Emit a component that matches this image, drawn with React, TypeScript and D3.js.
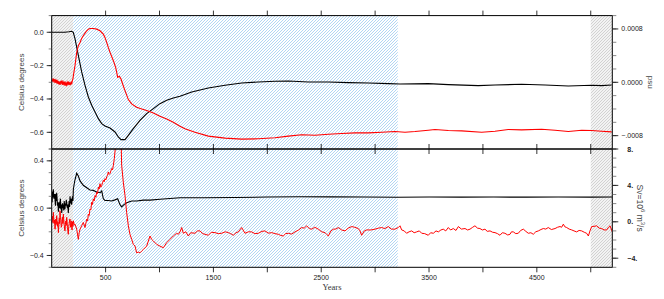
import React from "react";
import * as d3 from "d3";

// ---------- data ----------
// top panel, black: temperature (Celsius, left axis) [year, value]
const topBlack: [number, number][] = [
  [0, 0.0], [60, 0.0], [120, 0.0], [160, 0.003], [185, 0.006], [200, 0.0], [216, -0.038], [247, -0.138],
  [278, -0.238], [309, -0.318], [340, -0.388], [371, -0.438], [402, -0.478], [433, -0.518],
  [464, -0.548], [494, -0.562], [541, -0.574], [587, -0.598], [618, -0.628], [643, -0.644],
  [680, -0.644], [711, -0.618], [757, -0.578], [819, -0.528], [881, -0.488], [943, -0.458],
  [1004, -0.428], [1067, -0.408], [1128, -0.394], [1190, -0.384], [1299, -0.358], [1453, -0.334],
  [1608, -0.318], [1762, -0.304], [1917, -0.298], [2071, -0.294], [2195, -0.292], [2380, -0.298],
  [2566, -0.298], [2751, -0.302], [2937, -0.304], [3122, -0.308], [3231, -0.31], [3493, -0.308],
  [3679, -0.314], [3957, -0.32], [4112, -0.316], [4359, -0.312], [4576, -0.316], [4792, -0.322],
  [5009, -0.318], [5101, -0.32], [5194, -0.316],
];

// top panel, red: salinity (psu, right axis), in units of 1e-4 psu
const topRed: [number, number][] = [
  [0, 0.4], [6, 0.1], [12, 0.6], [18, 0.2], [24, 0.5], [30, -0.1], [36, 0.3], [42, 0.0], [48, 0.4],
  [54, -0.2], [60, 0.2], [66, -0.3], [72, 0.1], [78, -0.4], [84, 0.2], [90, -0.1], [96, 0.3],
  [102, -0.4], [108, 0.0], [114, -0.3], [120, 0.1], [126, -0.5], [132, -0.1], [138, -0.4],
  [144, 0.0], [150, -0.3], [156, 0.1], [162, -0.4], [168, -0.1], [174, -0.3], [180, 0.0],
  [186, -0.2], [192, 0.3], [198, 0.6], [201, 1.0], [216, 2.5], [232, 4.49], [247, 5.49],
  [263, 5.98], [278, 6.58], [293, 6.98], [309, 7.37], [325, 7.73], [340, 7.97], [355, 8.07],
  [386, 8.07], [417, 7.97], [448, 7.73], [479, 7.22], [494, 6.73], [510, 5.98], [525, 5.23],
  [541, 4.49], [572, 3.24], [593, 2.24], [603, 1.5], [612, 0.75], [628, 0.9], [643, 0.5],
  [658, -0.25], [680, -1.25], [711, -2.59], [742, -3.24], [788, -3.74], [835, -3.99],
  [881, -4.24], [943, -4.59], [1004, -5.08], [1067, -5.49], [1128, -5.98], [1190, -6.58],
  [1236, -6.98], [1329, -7.48], [1453, -8.07], [1608, -8.37], [1762, -8.52], [1917, -8.47],
  [2071, -8.32], [2195, -8.07], [2319, -7.87], [2442, -7.93], [2566, -7.78], [2690, -7.68],
  [2813, -7.58], [2937, -7.58], [3061, -7.48], [3184, -7.38], [3277, -7.48], [3370, -7.38],
  [3493, -7.18], [3555, -7.08], [3679, -7.23], [3803, -7.28], [3988, -7.48], [4112, -7.33],
  [4235, -7.08], [4359, -7.13], [4545, -7.03], [4669, -7.18], [4792, -7.38], [4916, -7.18],
  [5009, -7.23], [5101, -7.33], [5194, -7.43],
];

// bottom panel, black: temperature (Celsius, left axis)
const botBlack: [number, number][] = [
  [0, 0.1], [4, 0.05], [8, 0.14], [12, 0.09], [15, 0.16], [19, 0.1], [22, 0.08], [27, 0.12],
  [31, 0.07], [35, 0.02], [38, 0.12], [42, 0.06], [46, 0.13], [50, 0.08], [54, 0.02],
  [58, 0.05], [62, -0.03], [66, 0.02], [70, 0.05], [74, 0.0], [77, 0.05], [81, 0.08],
  [85, -0.01], [89, 0.03], [93, -0.04], [97, 0.01], [100, 0.04], [104, 0.0], [108, 0.03],
  [112, -0.02], [116, 0.06], [120, 0.02], [123, -0.01], [127, 0.04], [131, 0.02], [135, 0.07],
  [139, 0.05], [143, 0.01], [146, 0.0], [150, 0.03], [154, -0.04], [158, 0.02], [162, 0.06],
  [166, 0.01], [170, 0.1], [174, 0.05], [177, 0.04], [181, 0.08], [185, 0.03], [189, 0.07],
  [193, 0.1], [197, 0.06], [201, 0.16], [208, 0.2], [216, 0.24],
  [232, 0.295], [247, 0.272], [263, 0.23], [293, 0.193], [325, 0.173], [355, 0.153],
  [386, 0.15], [417, 0.136], [448, 0.13], [464, 0.145], [479, 0.079], [494, 0.065],
  [525, 0.065], [556, 0.06], [587, 0.07], [612, 0.079], [633, 0.03], [649, 0.011], [670, 0.03],
  [696, 0.045], [742, 0.06], [788, 0.06], [850, 0.068], [912, 0.068], [1004, 0.075],
  [1097, 0.082], [1190, 0.088], [1400, 0.088], [1700, 0.09], [2000, 0.094], [2300, 0.096],
  [2600, 0.095], [2900, 0.094], [3200, 0.092], [3500, 0.094], [3800, 0.093], [4100, 0.094],
  [4400, 0.093], [4700, 0.094], [5000, 0.093], [5200, 0.094],
];

// bottom panel, red: overturning (Sv, right axis)
const botRed: [number, number][] = [
  [0, -0.07], [4, 0.3], [8, 0.6], [12, -0.1], [15, 1.04], [19, 0.4], [23, -0.2], [27, 0.2],
  [31, -0.81], [35, -0.2], [38, 0.3], [42, -0.3], [46, 0.67], [50, 0.1], [54, -0.5], [58, 0.0],
  [62, -1.19], [66, -0.4], [70, 0.4], [74, -0.2], [77, 1.22], [81, 0.5], [85, 0.2], [89, -0.6],
  [93, -0.44], [97, 0.3], [100, 0.5], [104, -0.2], [108, 0.85], [112, 0.2], [116, -0.3],
  [120, -0.8], [123, -1.0], [127, -0.3], [131, 0.1], [135, -0.4], [139, 0.48], [143, 0.0],
  [146, -0.6], [150, -1.0], [154, -1.37], [158, -0.5], [162, -0.2], [166, 0.2], [170, 0.3],
  [174, -0.6], [177, -0.4], [181, 0.1], [185, -0.63], [189, -0.9], [193, 0.0], [197, -0.5],
  [201, 0.11], [208, -0.3], [216, -0.26],
  [232, -0.81], [247, -1.93], [255, -1.2], [263, -0.81], [278, -0.44], [293, -0.07],
  [309, -0.63], [325, 0.3], [333, 0.1], [340, 0.85], [348, 0.7], [355, 1.41], [363, 1.3],
  [371, 2.15], [378, 1.9], [386, 2.52], [394, 2.3], [402, 2.89], [410, 2.7], [417, 3.26],
  [425, 3.1], [433, 3.81], [440, 3.6], [448, 4.19], [456, 3.8], [464, 4.0], [472, 4.3],
  [479, 4.56], [487, 4.4], [494, 4.74], [502, 4.6], [510, 4.93], [518, 5.1], [525, 5.48],
  [533, 5.2], [541, 5.3], [549, 5.6], [556, 5.85], [564, 5.7], [572, 6.22], [581, 6.96],
  [593, 8.44], [605, 11.0], [620, 12.0], [635, 10.0], [645, 8.2], [649, 6.22], [664, 4.37],
  [680, 2.89], [695, 1.04], [711, -0.44], [726, -1.37], [742, -1.93], [757, -2.48],
  [773, -2.67], [788, -3.41], [803, -3.33], [819, -3.41], [834, -3.22], [850, -3.04],
  [881, -2.67], [912, -1.56], [927, -1.93], [943, -2.11], [974, -2.48], [1004, -2.67],
  [1036, -2.85], [1066, -2.3], [1097, -1.93], [1128, -1.56], [1159, -1.26], [1175, -1.37],
  [1190, -1.11], [1206, -0.63], [1221, -1.26], [1244, -1.1], [1267, -1.56], [1290, -1.2],
  [1329, -1.26], [1352, -1.0], [1376, -1.0], [1400, -1.3], [1422, -1.37], [1453, -1.48],
  [1480, -1.15], [1515, -1.19], [1545, -1.3], [1577, -1.26], [1610, -1.1], [1638, -1.19],
  [1660, -1.3], [1685, -1.48], [1710, -1.2], [1731, -1.11], [1762, -0.63], [1793, -1.26],
  [1825, -1.1], [1855, -1.11], [1885, -1.3], [1917, -1.26], [1950, -1.05], [1978, -1.0],
  [2010, -1.25], [2041, -1.19], [2070, -1.3], [2102, -1.37], [2125, -1.5], [2148, -1.56],
  [2170, -1.3], [2195, -1.26], [2225, -1.35], [2257, -1.11], [2290, -0.9], [2319, -0.63],
  [2342, -0.7], [2365, -0.44], [2390, -0.75], [2412, -0.81], [2440, -0.6], [2473, -0.81],
  [2505, -1.1], [2535, -1.19], [2552, -1.4], [2566, -1.56], [2590, -1.0], [2612, -0.81],
  [2635, -0.8], [2659, -0.63], [2690, -0.9], [2721, -1.0], [2750, -0.7], [2783, -0.52],
  [2810, -0.6], [2844, -0.74], [2860, -1.0], [2875, -1.48], [2900, -1.0], [2922, -0.89],
  [2960, -0.9], [2999, -0.81], [3030, -0.7], [3061, -0.63], [3090, -0.75], [3122, -0.52],
  [3150, -0.8], [3184, -0.81], [3215, -0.63], [3231, -0.44], [3246, -0.89], [3270, -1.0],
  [3292, -1.26], [3315, -1.1], [3339, -1.0], [3362, -1.2], [3385, -1.11], [3410, -1.0],
  [3432, -1.26], [3460, -1.3], [3493, -1.48], [3515, -1.2], [3540, -1.26], [3565, -1.0],
  [3586, -1.11], [3610, -0.9], [3632, -0.81], [3655, -1.0], [3679, -0.63], [3700, -0.9],
  [3725, -0.74], [3750, -0.95], [3772, -0.52], [3800, -0.8], [3834, -0.74], [3858, -0.9],
  [3880, -0.81], [3905, -0.6], [3926, -0.44], [3950, -0.7], [3972, -0.74], [3995, -0.9],
  [4019, -0.81], [4040, -1.05], [4066, -1.0], [4090, -1.15], [4112, -1.19], [4135, -1.3],
  [4158, -1.48], [4180, -1.2], [4204, -1.26], [4230, -1.45], [4251, -1.37], [4265, -1.1],
  [4282, -1.11], [4305, -1.3], [4328, -1.26], [4350, -0.95], [4375, -0.81], [4398, -1.05],
  [4421, -1.26], [4445, -1.2], [4467, -1.37], [4490, -1.1], [4514, -1.0], [4538, -0.85],
  [4560, -0.74], [4583, -0.8], [4606, -0.63], [4635, -0.85], [4669, -0.74], [4692, -0.6],
  [4715, -0.52], [4730, -0.6], [4746, -0.26], [4760, -0.55], [4777, -0.63], [4800, -0.8],
  [4823, -0.89], [4845, -1.0], [4869, -1.11], [4892, -0.95], [4916, -1.0], [4940, -1.15],
  [4962, -1.26], [4978, -1.56], [4993, -1.0], [5009, -0.52], [5030, -0.5], [5055, -0.44],
  [5078, -0.7], [5101, -0.74], [5125, -0.9], [5148, -0.89], [5165, -0.6], [5179, -0.44],
  [5200, -1.11],
];

const xMajor = [500, 1500, 2500, 3500, 4500];
const xMinor = [1000, 2000, 3000, 4000, 5000];
const topLeftTicks = [0.0, -0.2, -0.4, -0.6];
const topRightTicks = [0.0008, 0.0, -0.0008];
const topRightLabels = ["0.0008", "0.0000", "\u2212.0008"];
const botLeftTicks = [0.4, 0.0, -0.4];
const botRightTicks = [8, 4, 0, -4];
const botRightLabels = ["8.", "4.", "0.", "\u22124."];
const greyBand1: [number, number] = [0, 200];
const blueBand: [number, number] = [200, 3210];
const greyBand2: [number, number] = [5000, 5200];

// ---------- layout ----------
const W = 664, H = 299;
const L = 51.7, R = 612.3;
const T1 = 15.6, B1 = 149, T2 = 149, B2 = 267.3;

const x = d3.scaleLinear().domain([0, 5200]).range([L, R]);
const yTL = d3.scaleLinear().domain([-0.7, 0.1]).range([B1, T1]);
const yTR = d3.scaleLinear().domain([-0.001, 0.001]).range([B1, T1]);
const yBL = d3.scaleLinear().domain([-0.5, 0.5]).range([B2, T2]);
const yBR = d3.scaleLinear().domain([-5, 8]).range([B2, T2]);

const tickFont = "'Liberation Sans', Arial, sans-serif";
const titleFont = "'Liberation Sans', Arial, sans-serif";
const yearsFont = "'Liberation Serif', 'Times New Roman', serif";

function mkLine(ys: d3.ScaleLinear<number, number>, k = 1) {
  return d3
    .line<[number, number]>()
    .x((d) => x(d[0]))
    .y((d) => ys(d[1] * k));
}

function range(a: number, b: number, s: number) {
  const out: number[] = [];
  for (let v = a; v <= b + 1e-9; v += s) out.push(+v.toFixed(6));
  return out;
}

export default function App() {
  const bands = (t: number, b: number) => (
    <g>
      <rect x={x(greyBand1[0])} y={t} width={x(greyBand1[1]) - x(greyBand1[0])} height={b - t} fill="url(#greyHatch)" />
      <rect x={x(blueBand[0])} y={t} width={x(blueBand[1]) - x(blueBand[0])} height={b - t} fill="url(#blueHatch)" />
      <rect x={x(greyBand2[0])} y={t} width={x(greyBand2[1]) - x(greyBand2[0])} height={b - t} fill="url(#greyHatch)" />
    </g>
  );

  const xTicks = (yEdge: number, dir: number) =>
    [...xMajor, ...xMinor].map((v) => (
      <line key={`${yEdge}-${v}`} x1={x(v)} x2={x(v)} y1={yEdge} y2={yEdge + dir * 5} stroke="#000" strokeWidth={0.8} />
    ));

  const leftMinorTop = range(-0.7, 0.1, 0.1);
  const leftMinorBot = range(-0.5, 0.5, 0.1);
  const rightMinorTop = range(-0.001, 0.001, 0.0002);
  const rightMinorBot = range(-5, 8, 1);

  return (
    <svg width={W} height={H} style={{ position: "absolute", left: 0, top: 0, background: "#fff" }}>
      <defs>
        <pattern id="blueHatch" patternUnits="userSpaceOnUse" width={3} height={3}>
          <rect width={3} height={3} fill="#fff" />
          <path d="M-1,1 L1,-1 M0,3 L3,0 M2,4 L4,2" stroke="#9ecbf0" strokeWidth={0.8} />
        </pattern>
        <pattern id="greyHatch" patternUnits="userSpaceOnUse" width={3} height={3}>
          <rect width={3} height={3} fill="#f3f3f3" />
          <path d="M-1,1 L1,-1 M0,3 L3,0 M2,4 L4,2" stroke="#c4c4c4" strokeWidth={0.7} />
        </pattern>
        <clipPath id="clipTop">
          <rect x={L} y={T1} width={R - L} height={B1 - T1} />
        </clipPath>
        <clipPath id="clipBot">
          <rect x={L} y={T2} width={R - L} height={B2 - T2} />
        </clipPath>
      </defs>

      {bands(T1, B1)}
      {bands(T2, B2)}

      <g clipPath="url(#clipTop)">
        <path d={mkLine(yTL)(topBlack) ?? ""} fill="none" stroke="#000" strokeWidth={1.1} />
        <path d={mkLine(yTR, 1e-4)(topRed) ?? ""} fill="none" stroke="#ff0000" strokeWidth={1.1} />
      </g>
      <g clipPath="url(#clipBot)">
        <path d={mkLine(yBL)(botBlack) ?? ""} fill="none" stroke="#000" strokeWidth={1.1} />
        <path d={mkLine(yBR)(botRed) ?? ""} fill="none" stroke="#ff0000" strokeWidth={1} />
      </g>

      {/* frames */}
      <rect x={L} y={T1} width={R - L} height={B1 - T1} fill="none" stroke="#000" strokeWidth={1} />
      <rect x={L} y={T2} width={R - L} height={B2 - T2} fill="none" stroke="#000" strokeWidth={1} />

      {/* x ticks */}
      {xTicks(T1, -1)}
      {xTicks(B1, 1)}
      {xTicks(T2, -1)}
      {xTicks(B2, 1)}

      {/* x labels */}
      {xMajor.map((v) => (
        <text key={v} x={x(v)} y={280} fontSize={7} fontFamily={tickFont} textAnchor="middle" fill="#222">
          {v}
        </text>
      ))}
      <text x={x(2600)} y={290} fontSize={8.5} fontFamily={yearsFont} textAnchor="middle" fill="#333">
        Years
      </text>

      {/* top left axis */}
      {leftMinorTop.map((v) => (
        <line key={`tlm${v}`} x1={L} x2={L - 3} y1={yTL(v)} y2={yTL(v)} stroke="#555" strokeWidth={0.7} />
      ))}
      {topLeftTicks.map((v) => (
        <g key={`tl${v}`}>
          <line x1={L} x2={L - 5} y1={yTL(v)} y2={yTL(v)} stroke="#000" strokeWidth={0.8} />
          <text x={L - 8} y={yTL(v) + 2.5} fontSize={7} fontFamily={tickFont} textAnchor="end" fill="#222">
            {v === 0 ? "0.0" : "\u2212" + Math.abs(v).toFixed(1)}
          </text>
        </g>
      ))}
      <text transform={`translate(24,${yTL(-0.3)}) rotate(-90)`} fontSize={8} fontFamily={titleFont} textAnchor="middle" fill="#444">
        Celsius degrees
      </text>

      {/* bottom left axis */}
      {leftMinorBot.map((v) => (
        <line key={`blm${v}`} x1={L} x2={L - 3} y1={yBL(v)} y2={yBL(v)} stroke="#555" strokeWidth={0.7} />
      ))}
      {botLeftTicks.map((v) => (
        <g key={`bl${v}`}>
          <line x1={L} x2={L - 5} y1={yBL(v)} y2={yBL(v)} stroke="#000" strokeWidth={0.8} />
          <text x={L - 8} y={yBL(v) + 2.5} fontSize={7} fontFamily={tickFont} textAnchor="end" fill="#222">
            {v === 0 ? "0.0" : v < 0 ? "\u2212" + Math.abs(v).toFixed(1) : v.toFixed(1)}
          </text>
        </g>
      ))}
      <text transform={`translate(24,${yBL(0)}) rotate(-90)`} fontSize={8} fontFamily={titleFont} textAnchor="middle" fill="#444">
        Celsius degrees
      </text>

      {/* top right axis */}
      {rightMinorTop.map((v) => (
        <line key={`trm${v}`} x1={R} x2={R + 4} y1={yTR(v)} y2={yTR(v)} stroke="#555" strokeWidth={0.7} />
      ))}
      {topRightTicks.map((v, i) => (
        <g key={`tr${v}`}>
          <line x1={R} x2={R + 6} y1={yTR(v)} y2={yTR(v)} stroke="#000" strokeWidth={0.8} />
          <text x={R + 9} y={yTR(v) + 2.5} fontSize={7} fontFamily={tickFont} textAnchor="start" fill="#222">
            {topRightLabels[i]}
          </text>
        </g>
      ))}
      <text transform={`translate(648,${yTR(0)}) rotate(90)`} fontSize={8} fontFamily={titleFont} textAnchor="middle" fill="#444">
        psu
      </text>

      {/* bottom right axis */}
      {rightMinorBot.map((v) => (
        <line key={`brm${v}`} x1={R} x2={R + 4} y1={yBR(v)} y2={yBR(v)} stroke="#555" strokeWidth={0.7} />
      ))}
      {botRightTicks.map((v, i) => (
        <g key={`br${v}`}>
          <line x1={R} x2={R + 6} y1={yBR(v)} y2={yBR(v)} stroke="#000" strokeWidth={0.8} />
          <text x={R + 15} y={yBR(v) + 2.5} fontSize={7} fontFamily={tickFont} textAnchor="start" fill="#222" fontWeight="bold">
            {botRightLabels[i]}
          </text>
        </g>
      ))}
      <text transform={`translate(637,${yBR(1.5)}) rotate(90)`} fontSize={8.5} fontFamily={titleFont} textAnchor="middle" fill="#444">
        Sv=10<tspan dy={-3.5} fontSize={6}>6</tspan>
        <tspan dy={3.5}> m</tspan>
        <tspan dy={-3.5} fontSize={6}>3</tspan>
        <tspan dy={3.5}>/s</tspan>
      </text>
    </svg>
  );
}
